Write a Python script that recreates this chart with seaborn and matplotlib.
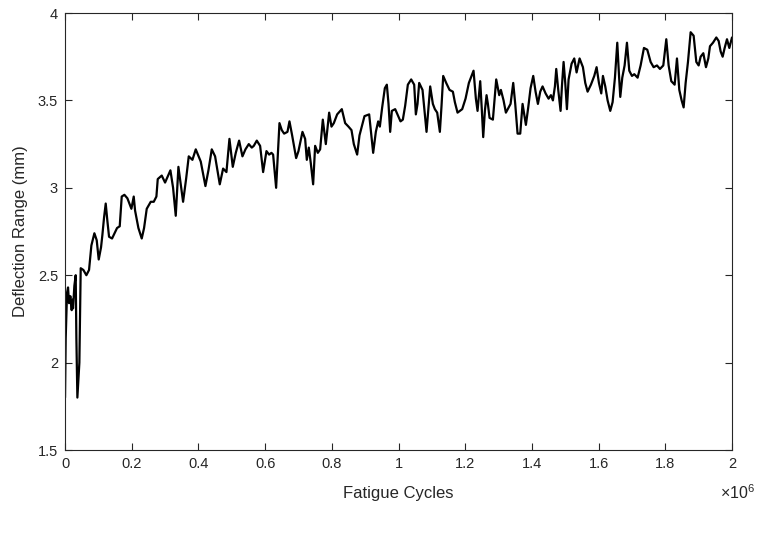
import numpy as np
import pandas as pd
import matplotlib
matplotlib.use("Agg")
import matplotlib.pyplot as plt
from matplotlib.ticker import FuncFormatter
import seaborn as sns

# Fatigue cycles (in millions of cycles)
cycles_millions = [
    0.000, 0.002, 0.006, 0.009, 0.012, 0.016, 0.020, 0.022, 0.024, 0.028,
    0.032, 0.034, 0.037, 0.043, 0.047, 0.055, 0.064, 0.072, 0.079, 0.088,
    0.095, 0.101, 0.108, 0.112, 0.117, 0.122, 0.127, 0.132, 0.141, 0.156,
    0.164, 0.170, 0.178, 0.187, 0.199, 0.206, 0.210, 0.220, 0.230, 0.237,
    0.245, 0.257, 0.266, 0.274, 0.278, 0.290, 0.300, 0.309, 0.316, 0.324,
    0.332, 0.340, 0.354, 0.363, 0.371, 0.382, 0.392, 0.407, 0.421, 0.430,
    0.440, 0.450, 0.464, 0.474, 0.484, 0.493, 0.503, 0.512, 0.522, 0.532,
    0.541, 0.551, 0.560, 0.566, 0.575, 0.585, 0.594, 0.604, 0.612, 0.619,
    0.624, 0.633, 0.643, 0.650, 0.657, 0.667, 0.673, 0.681, 0.693, 0.700,
    0.712, 0.720, 0.725, 0.731, 0.737, 0.744, 0.750, 0.758, 0.765, 0.773,
    0.778, 0.782, 0.792, 0.799, 0.806, 0.816, 0.830, 0.840, 0.850, 0.859,
    0.866, 0.876, 0.883, 0.898, 0.912, 0.917, 0.924, 0.932, 0.939, 0.944,
    0.951, 0.959, 0.965, 0.970, 0.975, 0.980, 0.990, 0.999, 1.006, 1.013,
    1.020, 1.028, 1.038, 1.047, 1.052, 1.057, 1.062, 1.072, 1.076, 1.084,
    1.090, 1.095, 1.103, 1.109, 1.116, 1.124, 1.129, 1.134, 1.143, 1.153,
    1.163, 1.169, 1.177, 1.191, 1.201, 1.211, 1.225, 1.232, 1.237, 1.245,
    1.250, 1.254, 1.259, 1.264, 1.268, 1.273, 1.283, 1.293, 1.302, 1.307,
    1.315, 1.322, 1.336, 1.344, 1.350, 1.357, 1.365, 1.372, 1.382, 1.389,
    1.396, 1.404, 1.411, 1.418, 1.425, 1.432, 1.441, 1.450, 1.457, 1.463,
    1.469, 1.473, 1.479, 1.486, 1.490, 1.495, 1.500, 1.505, 1.510, 1.519,
    1.527, 1.534, 1.543, 1.553, 1.560, 1.567, 1.577, 1.587, 1.594, 1.601,
    1.608, 1.613, 1.620, 1.627, 1.635, 1.642, 1.649, 1.656, 1.661, 1.665,
    1.671, 1.678, 1.685, 1.692, 1.700, 1.707, 1.717, 1.726, 1.736, 1.746,
    1.756, 1.765, 1.775, 1.784, 1.794, 1.803, 1.810, 1.818, 1.828, 1.835,
    1.842, 1.849, 1.855, 1.861, 1.868, 1.876, 1.885, 1.893, 1.900, 1.906,
    1.914, 1.922, 1.929, 1.934, 1.943, 1.953, 1.960, 1.966, 1.972, 1.978,
    1.985, 1.992, 2.000,
]

# Deflection range (mm)
deflection_mm = [
    1.80, 2.14, 2.40, 2.43, 2.34, 2.38, 2.30, 2.36, 2.31, 2.44,
    2.50, 2.14, 1.80, 2.00, 2.54, 2.53, 2.50, 2.53, 2.67, 2.74,
    2.70, 2.59, 2.66, 2.73, 2.83, 2.91, 2.81, 2.72, 2.71, 2.77,
    2.78, 2.95, 2.96, 2.94, 2.88, 2.95, 2.87, 2.77, 2.71, 2.77,
    2.88, 2.92, 2.92, 2.95, 3.05, 3.07, 3.03, 3.07, 3.10, 3.00,
    2.84, 3.12, 2.92, 3.05, 3.18, 3.16, 3.22, 3.15, 3.01, 3.10,
    3.22, 3.18, 3.02, 3.11, 3.09, 3.28, 3.12, 3.20, 3.27, 3.18,
    3.22, 3.25, 3.23, 3.24, 3.27, 3.24, 3.09, 3.21, 3.19, 3.20,
    3.19, 3.00, 3.37, 3.33, 3.31, 3.32, 3.38, 3.30, 3.17, 3.21,
    3.32, 3.28, 3.16, 3.23, 3.14, 3.02, 3.24, 3.20, 3.22, 3.39,
    3.31, 3.25, 3.43, 3.35, 3.37, 3.42, 3.45, 3.37, 3.35, 3.33,
    3.25, 3.19, 3.30, 3.41, 3.42, 3.33, 3.20, 3.32, 3.38, 3.35,
    3.46, 3.57, 3.59, 3.48, 3.32, 3.44, 3.45, 3.41, 3.38, 3.39,
    3.47, 3.59, 3.62, 3.59, 3.42, 3.48, 3.60, 3.56, 3.48, 3.32,
    3.46, 3.58, 3.48, 3.45, 3.43, 3.32, 3.47, 3.64, 3.60, 3.56,
    3.55, 3.49, 3.43, 3.45, 3.51, 3.60, 3.67, 3.51, 3.44, 3.61,
    3.44, 3.29, 3.44, 3.53, 3.48, 3.40, 3.39, 3.62, 3.53, 3.56,
    3.50, 3.43, 3.48, 3.60, 3.48, 3.31, 3.31, 3.48, 3.36, 3.46,
    3.57, 3.64, 3.55, 3.48, 3.55, 3.58, 3.54, 3.51, 3.53, 3.50,
    3.58, 3.68, 3.56, 3.44, 3.58, 3.72, 3.60, 3.45, 3.62, 3.71,
    3.74, 3.66, 3.74, 3.69, 3.60, 3.55, 3.59, 3.64, 3.69, 3.60,
    3.54, 3.64, 3.58, 3.50, 3.44, 3.49, 3.63, 3.83, 3.65, 3.52,
    3.63, 3.70, 3.83, 3.67, 3.64, 3.65, 3.63, 3.70, 3.80, 3.79,
    3.72, 3.69, 3.70, 3.68, 3.70, 3.85, 3.70, 3.61, 3.59, 3.74,
    3.56, 3.50, 3.46, 3.60, 3.72, 3.89, 3.87, 3.72, 3.70, 3.75,
    3.77, 3.69, 3.74, 3.81, 3.83, 3.86, 3.84, 3.78, 3.75, 3.80,
    3.85, 3.80, 3.86,
]

x_ticks = [0, 0.2, 0.4, 0.6, 0.8, 1.0, 1.2, 1.4, 1.6, 1.8, 2.0]
y_ticks = [1.5, 2, 2.5, 3, 3.5, 4]

df = pd.DataFrame({"cycles": cycles_millions, "deflection": deflection_mm})

sns.set_theme(style="white")
plt.rcParams["font.family"] = ["Liberation Sans", "DejaVu Sans"]
plt.rcParams["mathtext.fontset"] = "custom"
plt.rcParams["mathtext.rm"] = "Liberation Sans"

axis_color = "#262626"

fig = plt.figure(figsize=(7.66, 5.33), dpi=100)
ax = fig.add_axes([0.0849, 0.1557, 0.8707, 0.8199])

sns.lineplot(data=df, x="cycles", y="deflection", ax=ax, color="black",
             linewidth=1.6, sort=False, estimator=None)

ax.set_xlim(0, 2)
ax.set_ylim(1.5, 4)
ax.set_xticks(x_ticks)
ax.set_yticks(y_ticks)
fmt = FuncFormatter(lambda v, p: "%g" % round(v, 3))
ax.xaxis.set_major_formatter(fmt)
ax.yaxis.set_major_formatter(fmt)

ax.tick_params(axis="both", which="both", direction="in", length=5, width=0.8,
               colors=axis_color, labelsize=10.5, top=True, right=True,
               bottom=True, left=True, pad=5)
for sp in ax.spines.values():
    sp.set_visible(True)
    sp.set_color(axis_color)
    sp.set_linewidth(0.8)

ax.set_xlabel("Fatigue Cycles", fontsize=12, color=axis_color, labelpad=11)
ax.set_ylabel("Deflection Range (mm)", fontsize=12, color=axis_color, labelpad=7)
ax.grid(False)

fig.text(0.986, 0.064, r"$\times 10^{6}$", ha="right", va="baseline",
         fontsize=11.5, color=axis_color)

fig.savefig("out.png", dpi=100, facecolor="white")
